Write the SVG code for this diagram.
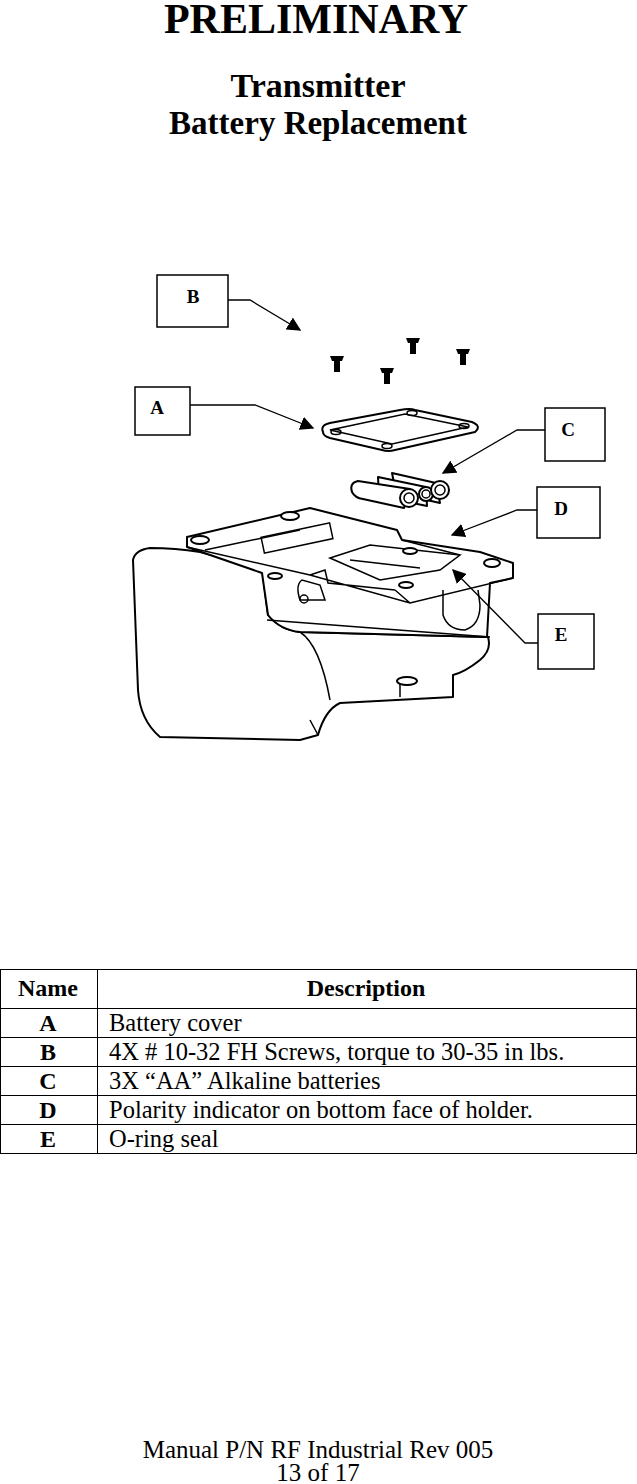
<svg xmlns="http://www.w3.org/2000/svg" width="637" height="1484" viewBox="0 0 637 1484">
<defs>
<marker id="ah2" viewBox="0 0 10 10" refX="9" refY="5" markerWidth="14" markerHeight="14" markerUnits="userSpaceOnUse" orient="auto"><path d="M0,0 L10,5 L0,10 z" fill="#000"/></marker>
</defs>
<style>
text{font-family:"Liberation Serif","Times New Roman",serif;fill:#000}
.t{font-weight:bold;text-anchor:middle}
.lb{fill:#fff;stroke:#000;stroke-width:1.5}
.lt{font-weight:bold;font-size:19px;text-anchor:middle}
.ln{fill:none;stroke:#000;stroke-width:1.3}
.d{fill:#fff;stroke:#000;stroke-width:2;stroke-linejoin:round}
.dn{fill:none;stroke:#000;stroke-width:1.5}
.n{font-weight:bold;font-size:24px;text-anchor:middle}
.ds{font-size:24.5px}
.g{stroke:#000;stroke-width:1}
</style>
<rect width="637" height="1484" fill="#fff"/>
<text class="t" x="316" y="33" font-size="42">PRELIMINARY</text>
<text class="t" x="318" y="97" font-size="34">Transmitter</text>
<text class="t" x="318" y="134" font-size="33">Battery Replacement</text>

<g id="device">
<path class="d" d="M160,737 Q140,720 138,690 L133,560 Q135,550 150,548 Q175,548 200,552 L262,568 L268,615 Q280,630 300,632 L488,637 Q492,650 480,660 Q465,672 453,675 L453,697 L340,703 Q325,710 318,735 L300,740 Z"/>
<path class="d" d="M187,537 L310,508 L397,530 L402,540 L480,552 L513,563 L513,578 L490,583 L487,637 L300,632 Q280,630 268,615 L262,573 L187,547 Z"/>
<path class="dn" d="M187,547 L310,575 L410,603 L513,578 M310,575 L325,570 L328,583 L395,590 M395,590 L410,603 M402,540 L460,555"/>
<rect class="dn" x="262" y="530" width="70" height="16" transform="rotate(-12 297 538)"/>
<path class="dn" d="M205,550 L300,530 M330,558 L370,545 L460,555 L440,570 L380,580 Z M350,560 L420,568"/>
<path class="dn" d="M300,600 Q295,585 302,580 L320,585 L325,600 Z"/>
<circle class="dn" cx="304" cy="599" r="4"/>
<path class="dn" d="M443,590 L443,615 Q448,630 465,630 Q480,625 480,605 L478,590"/>
<path class="dn" d="M267,620 L490,637 M300,632 Q320,645 330,700"/>
<path class="dn" d="M453,675 L453,697 M400,680 L400,697 M310,720 L318,735"/>
<ellipse class="d" cx="407" cy="681" rx="10" ry="4"/>
<ellipse class="d" cx="200" cy="540" rx="9" ry="4"/>
<ellipse class="d" cx="290" cy="516" rx="9" ry="4"/>
<ellipse class="d" cx="410" cy="551" rx="7" ry="3"/>
<ellipse class="d" cx="492" cy="563" rx="8" ry="4"/>
<ellipse class="d" cx="406" cy="585" rx="7" ry="3"/>
<ellipse class="d" cx="275" cy="576" rx="7" ry="3"/>
</g>

<g id="cover">
<path class="d" d="M323,432 Q320,425 330,423 L400,410 Q410,408 415,410 L472,422 Q482,426 475,432 L395,450 Q388,452 382,450 L330,438 Q323,436 323,432 Z"/>
<path class="dn" d="M330,430 L405,414 L468,427 L392,444 Z"/>
<ellipse cx="336" cy="432" rx="5" ry="2.5" class="dn"/>
<ellipse cx="412" cy="413" rx="5" ry="2.5" class="dn"/>
<ellipse cx="464" cy="426" rx="5" ry="2.5" class="dn"/>
<ellipse cx="387" cy="446" rx="5" ry="2.5" class="dn"/>
</g>

<g id="batteries">
<path class="d" d="M392,473 L436,483 L440,503 L396,493 Z"/>
<path class="d" d="M378,477 L426,487 L427,506 L379,496 Z"/>
<path class="d" d="M358,481 Q349,483 352,492 Q355,498 363,499 L404,508 L410,489 Z"/>
<circle class="d" cx="409" cy="498" r="9"/><circle class="dn" cx="409" cy="498" r="5"/>
<circle class="d" cx="426" cy="494" r="7"/><circle class="dn" cx="426" cy="494" r="4"/>
<circle class="d" cx="440" cy="490" r="9"/><circle class="dn" cx="440" cy="490" r="5"/>
</g>

<g id="screws">
<g transform="translate(337,365)"><path d="M-7,-9 L7,-9 L5,-4 L3,-4 L3,7 L-3,7 L-3,-4 L-5,-4 Z" fill="#000"/></g>
<g transform="translate(413,347)"><path d="M-7,-9 L7,-9 L5,-4 L3,-4 L3,7 L-3,7 L-3,-4 L-5,-4 Z" fill="#000"/></g>
<g transform="translate(387,377)"><path d="M-7,-9 L7,-9 L5,-4 L3,-4 L3,7 L-3,7 L-3,-4 L-5,-4 Z" fill="#000"/></g>
<g transform="translate(463,358)"><path d="M-7,-9 L7,-9 L5,-4 L3,-4 L3,7 L-3,7 L-3,-4 L-5,-4 Z" fill="#000"/></g>
</g>

<g id="connectors">
<path class="ln" d="M228,300 L250,300 L300,330" marker-end="url(#ah2)"/>
<path class="ln" d="M190,405 L255,405 L313,428" marker-end="url(#ah2)"/>
<path class="ln" d="M545,430 L517,430 L443,473" marker-end="url(#ah2)"/>
<path class="ln" d="M537,510 L517,510 L452,535" marker-end="url(#ah2)"/>
<path class="ln" d="M538,643 L525,643 L453,570" marker-end="url(#ah2)"/>
</g>

<g id="label-B"><rect class="lb" x="157" y="275" width="71" height="52"/><text class="lt" x="193" y="303">B</text></g>
<g id="label-A"><rect class="lb" x="135" y="387" width="55" height="48"/><text class="lt" x="157" y="414">A</text></g>
<g id="label-C"><rect class="lb" x="545" y="408" width="60" height="53"/><text class="lt" x="568" y="436">C</text></g>
<g id="label-D"><rect class="lb" x="537" y="487" width="63" height="51"/><text class="lt" x="561" y="515">D</text></g>
<g id="label-E"><rect class="lb" x="538" y="614" width="56" height="55"/><text class="lt" x="561" y="641">E</text></g>

<g id="table">
<rect x="0.5" y="969.5" width="636" height="184" fill="none" class="g"/>
<path class="g" d="M97.5,969.5 V1153.5 M0,1008.5 H637 M0,1037.5 H637 M0,1066.5 H637 M0,1095.5 H637 M0,1124.5 H637"/>
<text class="n" x="48" y="996">Name</text>
<text class="n" x="366" y="996">Description</text>
<text class="n" x="48" y="1031">A</text><text class="ds" x="109" y="1031">Battery cover</text>
<text class="n" x="48" y="1060">B</text><text class="ds" x="109" y="1060">4X # 10-32 FH Screws, torque to 30-35 in lbs.</text>
<text class="n" x="48" y="1089">C</text><text class="ds" x="109" y="1089">3X “AA” Alkaline batteries</text>
<text class="n" x="48" y="1118">D</text><text class="ds" x="109" y="1118">Polarity indicator on bottom face of holder.</text>
<text class="n" x="48" y="1147">E</text><text class="ds" x="109" y="1147">O-ring seal</text>
</g>

<text x="318" y="1458" font-size="25" text-anchor="middle">Manual P/N RF Industrial Rev 005</text>
<text x="318" y="1481" font-size="25" text-anchor="middle">13 of 17</text>
</svg>
